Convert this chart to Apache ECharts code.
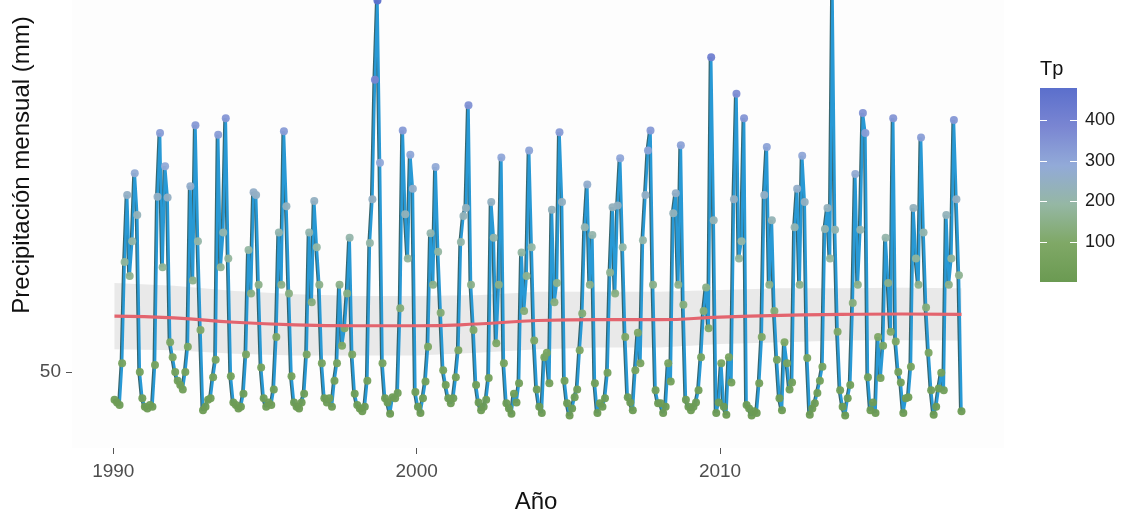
<!DOCTYPE html>
<html>
<head>
<meta charset="utf-8">
<script src="https://cdn.jsdelivr.net/npm/echarts@6/dist/echarts.min.js"></script>
<style>
  html, body { margin: 0; padding: 0; background: #ffffff; }
  #chart { width: 1130px; height: 519px; }
</style>
</head>
<body>
<div id="chart"></div>
<script>
// Monthly precipitation (mm), January..December of each year
const p1990 = [18, 15, 12, 60, 176, 253, 160, 200, 278, 230, 50, 20];
const p1991 = [10, 8, 12, 10, 58, 251, 324, 170, 286, 250, 84, 67];
const p1992 = [50, 40, 35, 30, 50, 79, 263, 155, 333, 200, 98, 6];
const p1993 = [10, 18, 20, 44, 64, 322, 170, 210, 341, 180, 45, 15];
const p1994 = [12, 8, 10, 25, 70, 190, 140, 256, 253, 150, 55, 20];
const p1995 = [10, 15, 12, 30, 90, 210, 150, 326, 240, 140, 45, 15];
const p1996 = [10, 8, 15, 25, 70, 210, 130, 246, 193, 150, 60, 20];
const p1997 = [15, 20, 10, 40, 60, 150, 80, 100, 140, 204, 70, 25];
const p1998 = [12, 8, 5, 10, 40, 198, 248, 385, 476, 290, 60, 20];
const p1999 = [15, 2, 21, 20, 26, 123, 327, 231, 180, 299, 260, 27];
const p2000 = [10, 3, 20, 39, 79, 209, 150, 285, 188, 118, 52, 35];
const p2001 = [20, 14, 20, 44, 75, 199, 229, 238, 356, 150, 98, 35];
const p2002 = [15, 6, 10, 18, 43, 245, 204, 83, 150, 296, 60, 14];
const p2003 = [8, 2, 25, 15, 37, 187, 120, 160, 304, 193, 86, 30];
const p2004 = [10, 3, 67, 72, 37, 236, 130, 152, 325, 245, 40, 14];
const p2005 = [0, 8, 21, 30, 75, 117, 216, 265, 150, 207, 37, 3];
const p2006 = [14, 10, 20, 49, 164, 239, 140, 241, 295, 193, 90, 21];
const p2007 = [15, 6, 52, 95, 60, 201, 253, 304, 327, 150, 29, 14];
const p2008 = [14, 3, 10, 60, 39, 232, 255, 150, 310, 127, 18, 10];
const p2009 = [6, 10, 15, 29, 67, 120, 147, 100, 411, 224, 3, 15];
const p2010 = [60, 10, 1, 67, 38, 248, 369, 180, 200, 341, 12, 8];
const p2011 = [0, 5, 3, 37, 90, 253, 308, 150, 224, 120, 64, 20];
const p2012 = [6, 84, 60, 30, 38, 216, 260, 150, 298, 245, 66, 1];
const p2013 = [8, 14, 26, 40, 56, 214, 238, 180, 478, 213, 96, 29];
const p2014 = [10, 0, 20, 35, 129, 277, 150, 213, 347, 324, 44, 6];
const p2015 = [15, 3, 90, 43, 80, 204, 152, 96, 341, 85, 50, 38];
const p2016 = [3, 20, 21, 56, 238, 180, 150, 319, 210, 124, 72, 29];
const p2017 = [1, 10, 31, 49, 29, 230, 150, 180, 339, 248, 161, 5];

const years = [1990, 1991, 1992, 1993, 1994, 1995, 1996, 1997, 1998, 1999,
               2000, 2001, 2002, 2003, 2004, 2005, 2006, 2007, 2008, 2009,
               2010, 2011, 2012, 2013, 2014, 2015, 2016, 2017];
const yearly = [p1990, p1991, p1992, p1993, p1994, p1995, p1996, p1997, p1998, p1999,
                p2000, p2001, p2002, p2003, p2004, p2005, p2006, p2007, p2008, p2009,
                p2010, p2011, p2012, p2013, p2014, p2015, p2016, p2017];

// Smoothed trend of the series and its band half-width (mm)
const trendYears  = [1990.04, 1992, 1994, 1996, 1998, 2000, 2002, 2004, 2006, 2008, 2010, 2012, 2014, 2016, 2017.96];
const trendValues = [114, 112, 107, 104, 103, 103, 105, 109, 110, 110, 113, 115, 116, 116.5, 116];
const bandHalfWidth = [38, 37, 36, 35, 34, 34, 33, 33, 32, 32, 31, 31, 30, 30, 30];

// Axis ticks and colour-bar ticks
const xTicks = [1990, 2000, 2010];
const yTicks = [50];
const legendTicks = [100, 200, 300, 400];
const tpMin = 0, tpMax = 480;
const tpColors = ['#6b9a52', '#7fa866', '#95b7a4', '#92aad8', '#7a86d2', '#5b6fcc'];

// Monthly points placed at mid-month, in decimal years
const series = [];
years.forEach((yr, i) => {
  yearly[i].forEach((v, m) => series.push([yr + (m + 0.5) / 12, v]));
});
const bandRows = trendYears.map((x, i) => [x, trendValues[i] - bandHalfWidth[i], trendValues[i] + bandHalfWidth[i]]);
const trend    = trendYears.map((x, i) => [x, trendValues[i]]);

const FONT = '"Liberation Sans", Arial, Helvetica, sans-serif';

// Colour bar geometry
const bar = { x: 1040, y: 88, w: 37, h: 194 };
const barY = v => bar.y + bar.h * (1 - (v - tpMin) / (tpMax - tpMin));
const stops = tpColors.map((c, i) => ({ offset: i / (tpColors.length - 1), color: c }));

const graphics = [
  { type: 'text', left: 1040, top: 59, style: { text: 'Tp', font: '20px ' + FONT, fill: '#111' } },
  { type: 'rect', shape: { x: bar.x, y: bar.y, width: bar.w, height: bar.h },
    style: { fill: { type: 'linear', x: 0, y: 1, x2: 0, y2: 0, colorStops: stops } } },
  {
    type: 'text', x: 22, y: 165, rotation: Math.PI / 2,
    style: { text: 'Precipitación mensual (mm)', font: '24px ' + FONT, fill: '#111',
             align: 'center', verticalAlign: 'middle' }
  },
  {
    type: 'text', x: 536, y: 502,
    style: { text: 'Año', font: '24px ' + FONT, fill: '#111', align: 'center', verticalAlign: 'middle' }
  }
];
legendTicks.forEach(t => {
  const y = Math.round(barY(t)) + 0.5;
  graphics.push({ type: 'line', shape: { x1: bar.x, y1: y, x2: bar.x + 7, y2: y }, style: { stroke: '#ffffff', lineWidth: 1 } });
  graphics.push({ type: 'line', shape: { x1: bar.x + bar.w - 7, y1: y, x2: bar.x + bar.w, y2: y }, style: { stroke: '#ffffff', lineWidth: 1 } });
  graphics.push({ type: 'text', x: 1085, y: y,
    style: { text: String(t), font: '18px ' + FONT, fill: '#1a1a1a', verticalAlign: 'middle' } });
});

// Band polygon around the trend, built once from all rows
function renderBand(params, api) {
  if (params.dataIndex !== 0) return null;
  const upper = bandRows.map(r => api.coord([r[0], r[2]]));
  const lower = bandRows.map(r => api.coord([r[0], r[1]])).reverse();
  return {
    type: 'polygon',
    shape: { points: upper.concat(lower) },
    style: { fill: 'rgba(205,205,205,0.42)', stroke: 'none' },
    silent: true
  };
}

const chart = echarts.init(document.getElementById('chart'), null, { renderer: 'canvas' });
chart.setOption({
  animation: false,
  backgroundColor: '#ffffff',
  grid: { left: 72, right: 126, top: 0, bottom: 71, show: true, backgroundColor: '#fdfdfd', borderWidth: 0 },
  xAxis: {
    type: 'value', min: 1988.64, max: 2019.36,
    axisLine: { show: false, onZero: false },
    splitLine: { show: false },
    axisTick: { show: true, customValues: xTicks, length: 6, lineStyle: { color: '#555', width: 1 } },
    axisLabel: { customValues: xTicks, formatter: v => String(v), margin: 14,
                 fontSize: 19, fontFamily: FONT, color: '#4d4d4d' }
  },
  yAxis: {
    type: 'value', min: -37.2, max: 476.6,
    axisLine: { show: false, onZero: false },
    splitLine: { show: false },
    axisTick: { show: true, customValues: yTicks, length: 6, lineStyle: { color: '#555', width: 1 } },
    axisLabel: { customValues: yTicks, formatter: v => String(v), margin: 11,
                 fontSize: 19, fontFamily: FONT, color: '#4d4d4d' }
  },
  visualMap: {
    type: 'continuous', show: false, min: tpMin, max: tpMax, dimension: 1,
    seriesIndex: 2, inRange: { color: tpColors }
  },
  series: [
    { type: 'custom', data: bandRows, renderItem: renderBand, silent: true, z: 1,
      encode: { x: 0, y: [1, 2] } },
    { type: 'line', data: series, showSymbol: false, symbol: 'none',
      lineStyle: { color: '#2899d5', width: 2.6, shadowColor: 'rgba(20,75,85,0.85)', shadowOffsetX: -1.2, shadowBlur: 0 },
      z: 2 },
    { type: 'scatter', data: series, symbol: 'circle', symbolSize: 8, z: 3,
      itemStyle: { opacity: 0.95 } },
    { type: 'line', data: trend, smooth: true, symbol: 'none',
      lineStyle: { color: '#e3646e', width: 3.2 }, z: 4 }
  ],
  graphic: graphics
});
</script>
</body>
</html>
